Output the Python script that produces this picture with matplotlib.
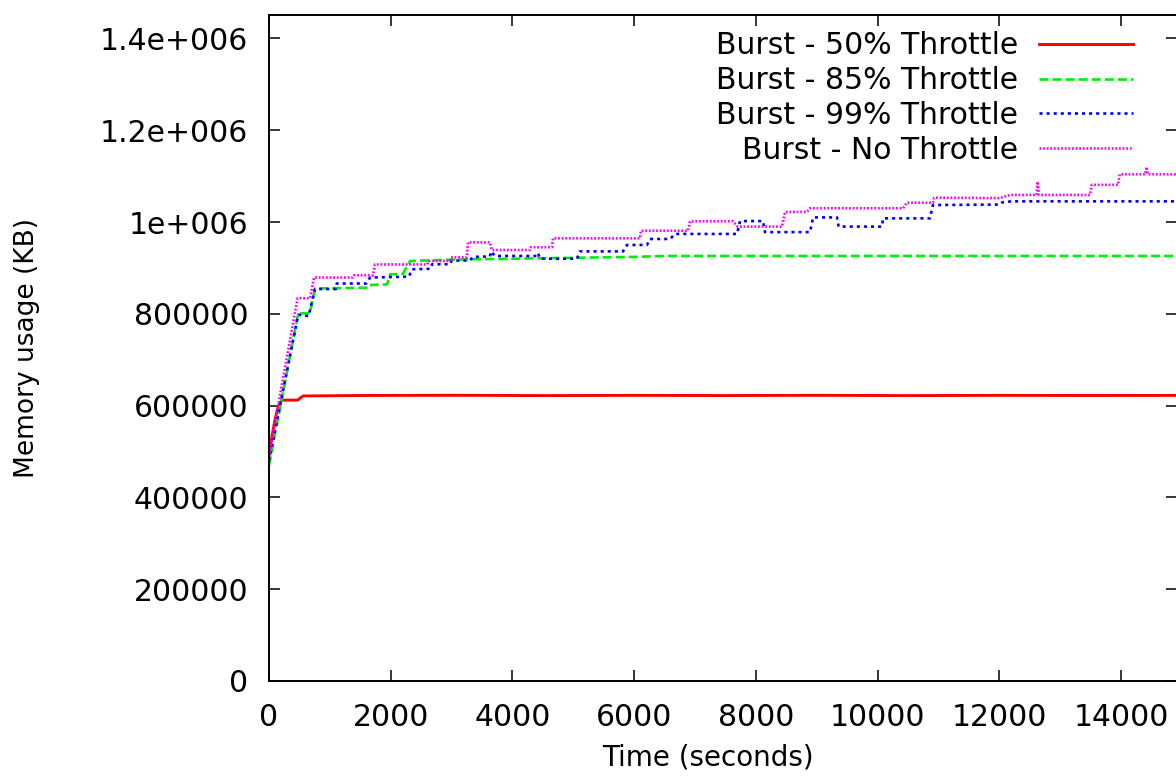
import numpy as np
import matplotlib
matplotlib.use("Agg")
import matplotlib.pyplot as plt

plt.rcParams["font.family"] = ["DejaVu Sans"]
plt.rcParams["lines.scale_dashes"] = False

# Burst - 50% Throttle
t_50 = [0, 50, 100, 150, 210, 470, 560, 1500, 3000, 4500, 6000, 7500, 9000, 10500, 12000, 13500, 14920]
v_50 = [485000, 535000, 570000, 598000, 612000, 612000, 621000, 622000, 622500, 621800, 622300, 621900, 622400, 621800, 622300, 622000, 622200]

# Burst - 85% Throttle
t_85 = [0, 480, 670, 756, 1660, 1680, 1940, 1990, 2200, 2320, 3000, 4000, 5000, 6000, 6500, 10000, 14920]
v_85 = [470000, 801000, 801000, 855000, 857000, 863000, 864000, 886000, 887000, 915000, 918000, 920000,
        922000, 924000, 926000, 926000, 926000]

# Burst - 99% Throttle
t_99 = [0, 480, 650, 756, 1100, 1112, 1600, 1660, 2300, 2350, 2650, 2680, 2975, 3000, 3300, 3350, 3630,
        3650, 3710, 4403, 4420, 4453, 5060, 5110, 5817, 5882, 6211, 6260, 6590, 6671, 7690, 7740, 8117,
        8150, 8890, 8940, 9333, 9360, 10072, 10090, 10860, 10910, 12010, 12050, 12200, 14920]
v_99 = [480000, 798000, 795000, 854000, 854000, 866000, 866000, 879000, 881000, 897000, 898000, 908000,
        908000, 916000, 916000, 924000, 925000, 936000, 926000, 926000, 932000, 920000, 920000, 936000,
        936000, 950000, 950000, 963000, 963000, 974000, 974000, 1002000, 1002000, 978000, 978000, 1010000,
        1010000, 990000, 990000, 1008000, 1008000, 1037000, 1038000, 1043000, 1045000, 1045000]

# Burst - No Throttle
t_no = [0, 470, 674, 740, 1380, 1400, 1710, 1740, 2600, 2620, 2975, 2990, 3250, 3270, 3630, 3660, 4290,
        4300, 4650, 4667, 6096, 6110, 6885, 6918, 7624, 7700, 8430, 8480, 8840, 8890, 10420, 10480, 10910,
        10930, 12010, 12175, 12610, 12630, 12650, 13490, 13520, 13950, 13980, 14400, 14420, 14440, 14920]
v_no = [490000, 834000, 834000, 879000, 879000, 884000, 884000, 907500, 907500, 915000, 915000, 923000,
        923000, 955700, 955700, 939000, 939000, 945000, 945000, 964500, 964500, 981000, 981000, 1001500,
        1001500, 990000, 990000, 1022000, 1022000, 1030000, 1030000, 1042000, 1042000, 1053000, 1052000,
        1059000, 1059000, 1088000, 1059000, 1059000, 1081000, 1081000, 1104000, 1104000, 1120000, 1104000,
        1104000]

x_ticks = [0, 2000, 4000, 6000, 8000, 10000, 12000, 14000]
y_ticks = [0, 200000, 400000, 600000, 800000, 1000000, 1200000, 1400000]
y_tick_labels = ["0", "200000", "400000", "600000", "800000", "1e+006", "1.2e+006", "1.4e+006"]

fig = plt.figure(figsize=(11.76, 7.83), dpi=100)
ax = fig.add_axes([0.22874, 0.13027, 0.77211, 0.85057])

ax.plot(t_50, v_50, color="#ff0000", lw=2.1, label="Burst - 50% Throttle")
ax.plot(t_85, v_85, color="#00ee00", lw=1.9, linestyle=(0, (6.5, 2.9)), label="Burst - 85% Throttle")
ax.plot(t_99, v_99, color="#0000ff", lw=1.9, linestyle=(0, (2.2, 2.9)), label="Burst - 99% Throttle")
ax.plot(t_no, v_no, color="#ff00ff", lw=1.9, linestyle=(0, (1.3, 1.3)), label="Burst - No Throttle")

ax.set_xlim(0, 14920)
ax.set_ylim(0, 1451000)
ax.set_xticks(x_ticks)
ax.set_xticklabels([str(x) for x in x_ticks])
ax.set_yticks(y_ticks)
ax.set_yticklabels(y_tick_labels)

ax.tick_params(direction="in", length=8, width=1.1, labelsize=21.5, top=True, right=True)
ax.tick_params(axis="x", pad=16)
ax.tick_params(axis="y", pad=15)
for s in ax.spines.values():
    s.set_linewidth(1.4)

ax.set_xlabel("Time (seconds)", fontsize=20)
ax.set_ylabel("Memory usage (KB)", fontsize=19)
ax.xaxis.set_label_coords((708 - 269) / 908, -0.0935)
ax.yaxis.set_label_coords(-0.252, 0.5)

ax.legend(loc="upper right", bbox_to_anchor=(0.9515, 0.976), frameon=False, fontsize=21.5,
          markerfirst=False, handlelength=3.15, handletextpad=0.7, labelspacing=0.2,
          borderaxespad=0, borderpad=0)

plt.savefig("out.png", dpi=100)
